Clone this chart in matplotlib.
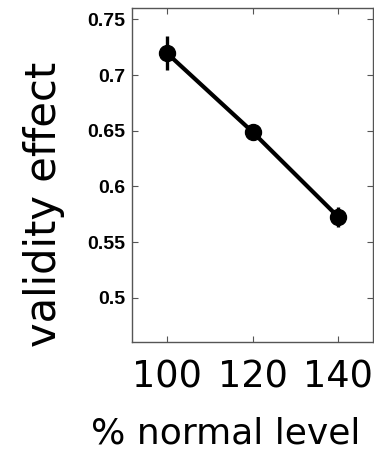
import numpy as np
import matplotlib.pyplot as plt

# % of normal level vs. validity effect
level = [100, 120, 140]
validity = [0.72, 0.649, 0.5725]
sem = [0.015, 0.006, 0.009]

xticks = [100, 120, 140]
yticks = [0.5, 0.55, 0.6, 0.65, 0.7, 0.75]
ytick_labels = ['0.5', '0.55', '0.6', '0.65', '0.7', '0.75']

fig = plt.figure(figsize=(3.74, 4.51), dpi=100)
ax = fig.add_axes([0.3538, 0.241, 0.6427, 0.7406])

ax.errorbar(level, validity, yerr=sem, color='black', fmt='none',
            elinewidth=2.4, capsize=0, zorder=2)
ax.plot(level, validity, color='black', linewidth=3, marker='o',
        markersize=11.5, zorder=3)

ax.set_xlim(92, 148)
ax.set_ylim(0.46, 0.76)
ax.set_xticks(xticks)
ax.set_xticklabels([str(x) for x in xticks], fontsize=26.5, family='DejaVu Sans')
ax.set_yticks(yticks)
ax.set_yticklabels(ytick_labels, fontsize=14, fontweight='bold',
                   family='Liberation Sans')

ax.tick_params(direction='in', length=4, width=0.8, color='#555555',
               top=True, right=True)
ax.tick_params(axis='x', pad=12)
ax.tick_params(axis='y', pad=5)
for s in ax.spines.values():
    s.set_color('#555555')
    s.set_linewidth(1)

fig.text(226 / 374, 1 - 433 / 451, '% normal level', fontsize=26,
         family='DejaVu Sans', ha='center', va='center')
fig.text(44 / 374, 1 - 204 / 451, 'validity effect', fontsize=30,
         family='DejaVu Sans', ha='center', va='center', rotation=90)

fig.savefig('out.png', dpi=100)
